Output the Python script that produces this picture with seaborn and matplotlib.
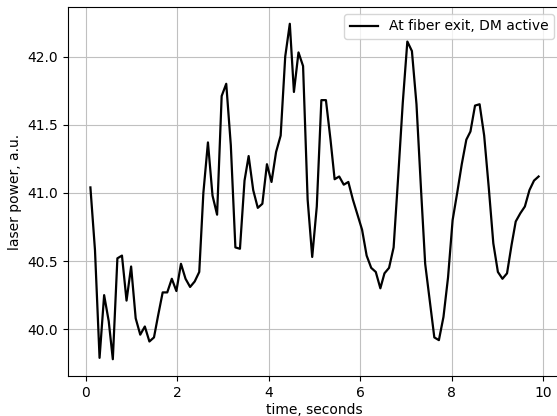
import pandas as pd
import seaborn as sns
import matplotlib
matplotlib.use('Agg')
import matplotlib.pyplot as plt

# time stamps (seconds) and laser power
time_s = [0.10, 0.20, 0.30, 0.40, 0.50, 0.59, 0.69, 0.79, 0.89, 0.99,
          1.09, 1.19, 1.29, 1.39, 1.49, 1.58, 1.68, 1.78, 1.88, 1.98,
          2.08, 2.18, 2.28, 2.38, 2.48, 2.57, 2.67, 2.77, 2.87, 2.97,
          3.07, 3.17, 3.27, 3.37, 3.47, 3.56, 3.66, 3.76, 3.86, 3.96,
          4.06, 4.16, 4.26, 4.36, 4.46, 4.55, 4.65, 4.75, 4.85, 4.95,
          5.05, 5.15, 5.25, 5.35, 5.44, 5.54, 5.64, 5.74, 5.84, 5.94,
          6.04, 6.14, 6.24, 6.34, 6.44, 6.53, 6.63, 6.73, 6.83, 6.93,
          7.03, 7.13, 7.23, 7.33, 7.42, 7.52, 7.62, 7.72, 7.82, 7.92,
          8.02, 8.12, 8.22, 8.32, 8.41, 8.51, 8.61, 8.71, 8.81, 8.91,
          9.01, 9.11, 9.21, 9.31, 9.40, 9.50, 9.60, 9.70, 9.80, 9.90]

power = [41.04, 40.58, 39.79, 40.25, 40.06, 39.78, 40.52, 40.54, 40.21, 40.46,
         40.08, 39.96, 40.02, 39.91, 39.94, 40.10, 40.27, 40.27, 40.37, 40.28,
         40.48, 40.37, 40.31, 40.35, 40.42, 41.00, 41.37, 40.98, 40.84, 41.71,
         41.80, 41.35, 40.60, 40.59, 41.09, 41.27, 41.02, 40.89, 40.92, 41.21,
         41.08, 41.30, 41.42, 42.00, 42.24, 41.74, 42.03, 41.93, 40.95, 40.53,
         40.90, 41.68, 41.68, 41.39, 41.10, 41.12, 41.06, 41.08, 40.95, 40.84,
         40.73, 40.54, 40.45, 40.42, 40.30, 40.41, 40.45, 40.60, 41.12, 41.66,
         42.11, 42.04, 41.65, 41.02, 40.48, 40.21, 39.94, 39.92, 40.09, 40.38,
         40.80, 41.00, 41.21, 41.39, 41.45, 41.64, 41.65, 41.42, 41.04, 40.63,
         40.42, 40.37, 40.41, 40.62, 40.79, 40.85, 40.90, 41.02, 41.09, 41.12]

df = pd.DataFrame({'time': time_s, 'power': power})

fig = plt.figure(figsize=(5.57, 4.16), dpi=100)
# axes runs a little past the right edge, as in the cropped original
ax = fig.add_axes([68 / 557, 40 / 416, 493 / 557, 369 / 416])

sns.lineplot(data=df, x='time', y='power', color='black', linewidth=1.6,
             label='At fiber exit, DM active', ax=ax)

ax.grid(True, color='#c0c0c0', linewidth=0.8)
ax.set_xlabel('time, seconds', labelpad=2.5)
ax.set_ylabel('laser power, a.u.')
ax.set_xticks([0, 2, 4, 6, 8, 10])
ax.set_yticks([40.0, 40.5, 41.0, 41.5, 42.0])
ax.legend(loc='upper right')

fig.savefig('out.png', dpi=100)
